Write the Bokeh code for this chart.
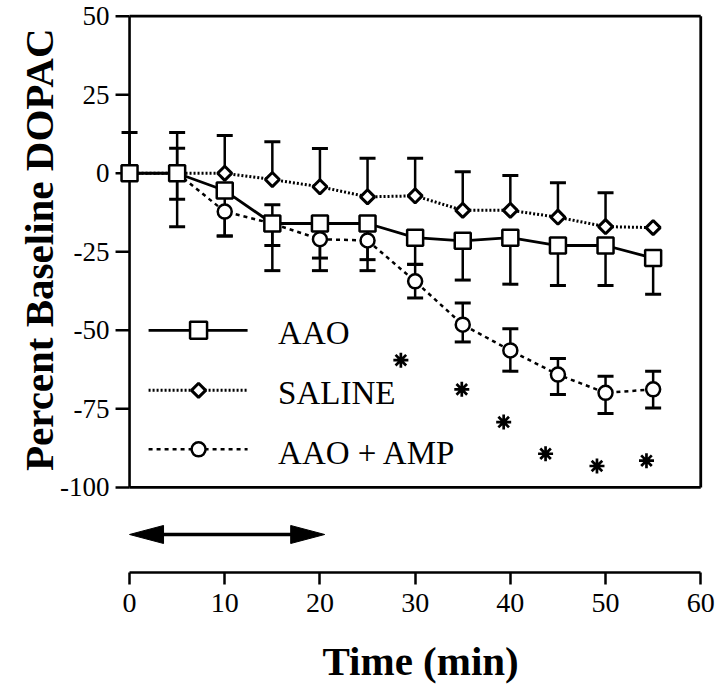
import math
from bokeh.plotting import figure
from bokeh.models import (Range1d, FixedTicker, Whisker, TeeHead, ColumnDataSource, Title)
from bokeh.core.properties import value
from bokeh.embed import file_html
from bokeh.resources import INLINE

nan = float("nan")

# ---- data ----
time = [0, 5, 10, 15, 20, 25, 30, 35, 40, 45, 50, 55]
aao = [0, 0, -5.5, -16, -16, -16, -20.5, -21.5, -20.5, -23, -23, -27]
aao_low = [nan, -17, -20, -31, -31, -31, -29, -34, -35.3, -35.7, -35.7, -38.5]
saline = [0, 0, 0, -2, -4.3, -7.5, -7.2, -11.8, -11.8, -14, -17, -17.3]
saline_up = [13, 13, 12, 10, 7.9, 4.8, 4.8, 0.5, -0.7, -3, -6.2, nan]
amp = [0, 0, -12.2, -16, -21, -21.4, -34.4, -48.2, -56.4, -64.1, -69.9, -68.8]
amp_up = [nan, 8, nan, -10, -15, -15.4, -29, -41.3, -49.5, -59, -64.6, -63]
amp_low = [nan, -8.3, -20, -23, -27, -27.5, -39.7, -53.7, -63, -70.4, -76.5, -74.7]
star_t = [28.5, 34.9, 39.3, 43.7, 49.1, 54.3]
star_y = [-59.5, -68.8, -79.2, -89.3, -93.2, -91.5]
treatment = [0, 20.5]
x_ticks = [0, 10, 20, 30, 40, 50, 60]
y_ticks = [-100, -75, -50, -25, 0, 25, 50]
y_tick_labels = ["-100", "-75", "-50", "-25", "0", "25", "50"]
legend_labels = ["AAO", "SALINE", "AAO + AMP"]

SERIF = "Liberation Serif"

# ---- layout ----
X0, X1 = -2, 60.5
Y0, Y1 = -127.1, 51.5
FW, FH = 595, 561
pxx = FW / (X1 - X0)
pxy = FH / (Y1 - Y0)

p = figure(frame_width=FW, frame_height=FH, x_range=Range1d(X0, X1), y_range=Range1d(Y0, Y1),
           output_backend="svg", toolbar_location=None,
           min_border_left=110, min_border_right=10, min_border_top=11, min_border_bottom=120)
p.outline_line_color = None
p.grid.visible = False
p.background_fill_color = "white"

# bottom axis
xa = p.xaxis[0]
xa.ticker = FixedTicker(ticks=x_ticks)
xa.bounds = (x_ticks[0], x_ticks[-1])
xa.axis_line_width = 2.5
xa.major_tick_line_width = 2.5
xa.major_tick_out = 12
xa.major_tick_in = 0
xa.minor_tick_out = 0
xa.minor_tick_in = 0
xa.major_label_text_font = SERIF
xa.major_label_text_font_size = "28px"
xa.major_label_text_color = "black"
xa.major_label_standoff = 9

# left axis: labels only (line and ticks are drawn at x = 0 below)
ya = p.yaxis[0]
ya.ticker = FixedTicker(ticks=y_ticks)
ya.major_label_overrides = {t: s for t, s in zip(y_ticks, y_tick_labels)}
ya.axis_line_color = None
ya.major_tick_line_color = None
ya.minor_tick_line_color = None
ya.major_tick_out = 0
ya.major_tick_in = 0
ya.minor_tick_out = 0
ya.minor_tick_in = 0
ya.major_label_text_font = SERIF
ya.major_label_text_font_size = "27px"
ya.major_label_text_color = "black"
ya.major_label_standoff = 1

tick_len = 14 / pxx
p.segment(x0=[0], y0=[y_ticks[0]], x1=[0], y1=[y_ticks[-1]], line_color="black", line_width=2.6)
p.segment(x0=[-tick_len] * len(y_ticks), y0=y_ticks, x1=[0] * len(y_ticks), y1=y_ticks,
          line_color="black", line_width=2.5)

# frame box (top, right, bottom)
p.segment(x0=[x_ticks[0], x_ticks[-1], x_ticks[0]], y0=[y_ticks[-1], y_ticks[0], y_ticks[0]],
          x1=[x_ticks[-1], x_ticks[-1], x_ticks[-1]], y1=[y_ticks[-1], y_ticks[-1], y_ticks[0]],
          line_color="black", line_width=2.8)

# error bars
def add_whisker(base, mid, end):
    b, lo, hi = [], [], []
    for t, m, e in zip(base, mid, end):
        if e != e:
            continue
        b.append(t); lo.append(min(m, e)); hi.append(max(m, e))
    src = ColumnDataSource(dict(base=b, lower=lo, upper=hi))
    up = all(e >= m for m, e in zip(mid, end) if e == e)
    head = TeeHead(size=16, line_width=3, line_color="black")
    w = Whisker(source=src, base="base", lower="lower", upper="upper", dimension="height",
                line_width=2.5, line_color="black",
                upper_head=head if up else None, lower_head=None if up else head, level="underlay")
    p.add_layout(w)

add_whisker(time, saline, saline_up)
add_whisker(time, aao, aao_low)
add_whisker(time, amp, amp_up)
add_whisker(time, amp, amp_low)

# lines
p.line(time, saline, line_color="black", line_width=3, line_dash="2 2")
p.line(time, amp, line_color="black", line_width=2.5, line_dash="4 4")
p.line(time, aao, line_color="black", line_width=2.8)

# markers
p.scatter(time, saline, marker="square", angle=math.pi / 4, size=10, fill_color="white",
          line_color="black", line_width=3)
p.scatter(time, amp, marker="circle", size=14, fill_color="white", line_color="black", line_width=2.5)
p.scatter(time, aao, marker="square", size=16, fill_color="white", line_color="black", line_width=2.5)

# significance stars
p.scatter(star_t, star_y, marker="asterisk", size=15, line_color="black", line_width=2.7)

# manual legend
leg_x0, leg_x1, leg_xm, leg_xt = 2.0, 12.4, 7.25, 15.6
leg_y = [-50.0, -69.1, -87.9]
p.line([leg_x0, leg_x1], [leg_y[0]] * 2, line_color="black", line_width=2.8)
p.line([leg_x0, leg_x1], [leg_y[1]] * 2, line_color="black", line_width=3, line_dash="2 2")
p.line([leg_x0, leg_x1], [leg_y[2]] * 2, line_color="black", line_width=2.5, line_dash="4 4")
p.scatter([leg_xm], [leg_y[0]], marker="square", size=17, fill_color="white", line_color="black", line_width=2.5)
p.scatter([leg_xm], [leg_y[1]], marker="square", angle=math.pi / 4, size=10, fill_color="white",
          line_color="black", line_width=3)
p.scatter([leg_xm], [leg_y[2]], marker="circle", size=14, fill_color="white", line_color="black", line_width=2.5)
p.text([leg_xt] * 3, [y - 1.0 for y in leg_y], text=legend_labels, text_font=value(SERIF),
       text_font_size="33px", text_baseline="middle", text_align="left", text_color="black")

# treatment arrow (double headed)
ay = -115.0
hl = 34 / pxx
hw = 9 / pxy
p.line([treatment[0] + hl * 0.9, treatment[1] - hl * 0.9], [ay, ay], line_color="black", line_width=3.5)
p.patches(xs=[[treatment[0], treatment[0] + hl, treatment[0] + hl],
              [treatment[1], treatment[1] - hl, treatment[1] - hl]],
          ys=[[ay, ay + hw, ay - hw], [ay, ay + hw, ay - hw]],
          fill_color="black", line_color="black", line_width=1)

# axis titles
p.add_layout(Title(text="Percent Baseline DOPAC", align="right", offset=17, standoff=-8,
                   text_font=SERIF, text_font_style="bold", text_font_size="41px",
                   text_color="black"), "left")
p.add_layout(Title(text="Time (min)", align="left", offset=212, standoff=42,
                   text_font=SERIF, text_font_style="bold", text_font_size="41px",
                   text_color="black"), "below")

open("out.html", "w").write(file_html(p, INLINE))
